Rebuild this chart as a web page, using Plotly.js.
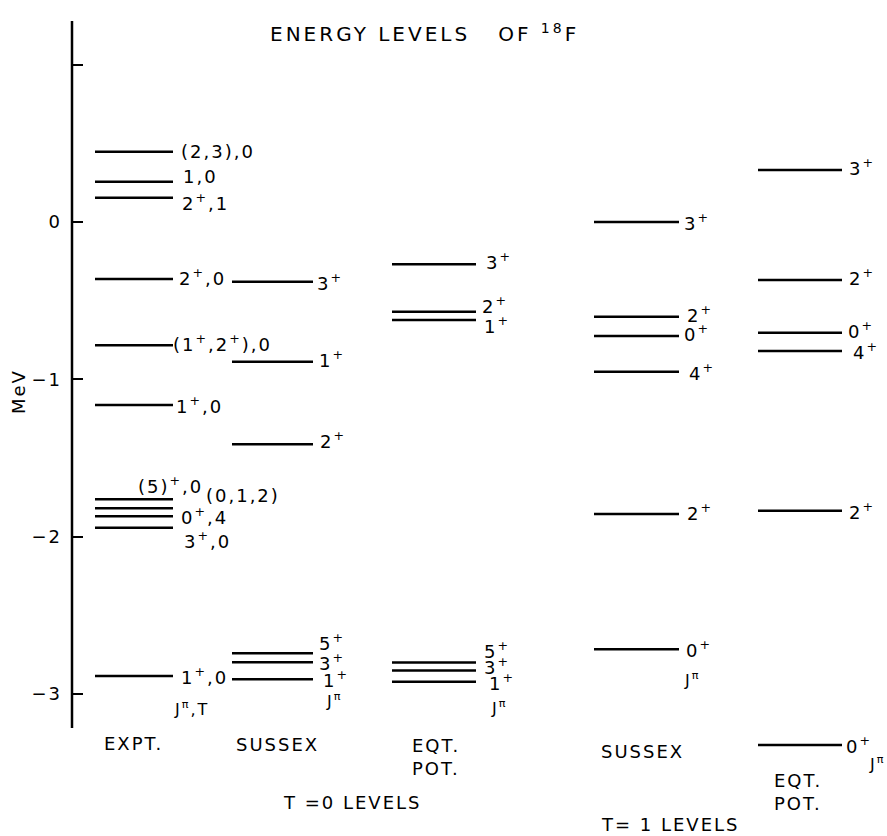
<!DOCTYPE html>
<html><head><meta charset="utf-8">
<script src="https://cdn.plot.ly/plotly-3.0.1.min.js"></script>
<style>
html,body{margin:0;padding:0;background:#fff;}
#chart{width:887px;height:836px;}
text{letter-spacing:2px;}
text.gtitle{letter-spacing:3px;}
</style></head><body><div id="chart"></div>
<script>
// ---- Data (energies in MeV) ----
const exptE = [0.447, 0.256, 0.154, -0.362, -0.784, -1.163, -1.763, -1.820, -1.871, -1.943, -2.886];
const exptLabels = ['(2,3),0', '1,0', '2<sup>+</sup>,1', '2<sup>+</sup>,0', '(1<sup>+</sup>,2<sup>+</sup>),0', '1<sup>+</sup>,0',
                    '(5)<sup>+</sup>,0', '(0,1,2)', '0<sup>+</sup>,4', '3<sup>+</sup>,0', '1<sup>+</sup>,0'];
const sussexT0E = [-0.380, -0.888, -1.413, -2.742, -2.799, -2.907];
const sussexT0Labels = ['3<sup>+</sup>', '1<sup>+</sup>', '2<sup>+</sup>', '5<sup>+</sup>', '3<sup>+</sup>', '1<sup>+</sup>'];
const eqtT0E = [-0.269, -0.570, -0.623, -2.800, -2.852, -2.922];
const eqtT0Labels = ['3<sup>+</sup>', '2<sup>+</sup>', '1<sup>+</sup>', '5<sup>+</sup>', '3<sup>+</sup>', '1<sup>+</sup>'];
const sussexT1E = [0.000, -0.602, -0.725, -0.952, -1.856, -2.716];
const sussexT1Labels = ['3<sup>+</sup>', '2<sup>+</sup>', '0<sup>+</sup>', '4<sup>+</sup>', '2<sup>+</sup>', '0<sup>+</sup>'];
const eqtT1E = [0.331, -0.369, -0.704, -0.820, -1.835, -3.325];
const eqtT1Labels = ['3<sup>+</sup>', '2<sup>+</sup>', '0<sup>+</sup>', '4<sup>+</sup>', '2<sup>+</sup>', '0<sup>+</sup>'];
const yTickVals = [1, 0, -1, -2, -3];
const yTickText = ['', '0', '\u22121', '\u22122', '\u22123'];

// ---- Layout config (pixel positions; x axis is in pixels) ----
const FONT = 'DejaVu Sans, Liberation Sans, sans-serif';
const columns = [
  {E: exptE, labels: exptLabels, x0: 95, x1: 173,
   lx: [180, 182, 181, 178, 172, 175, 137, 205, 180, 183, 180],
   dy: [0, 5, -4, 2, 2, 0, 14, 13, 0, -12, 0]},
  {E: sussexT0E, labels: sussexT0Labels, x0: 232, x1: 313,
   lx: [316, 318, 319, 318, 318, 322], dy: [0, 3, 4, 11, 0, 0]},
  {E: eqtT0E, labels: eqtT0Labels, x0: 392, x1: 476,
   lx: [485, 481, 483, 483, 483, 488], dy: [3, 7, -5, 12, 5, 0]},
  {E: sussexT1E, labels: sussexT1Labels, x0: 594, x1: 679,
   lx: [683, 686, 683, 688, 686, 685], dy: [0, 3, 3, 0, 2, 0]},
  {E: eqtT1E, labels: eqtT1Labels, x0: 758, x1: 842,
   lx: [848, 848, 847, 852, 848, 845], dy: [3, 3, 3, 0, 0, 0]}
];

const W = 887, H = 836, mT = 21, mB = 36, mL = 72;
const plotH = H - mT - mB;
const yTop = 1.2778, yBot = -3.6745;
const py2paper = py => (H - mB - py) / plotH;
const px2paper = px => (px - mL) / (W - mL);

const traces = [];
const annotations = [];
columns.forEach(c => {
  const xs = [], ys = [];
  c.E.forEach((e, i) => {
    xs.push(c.x0, c.x1, null);
    ys.push(e, e, null);
    annotations.push({
      x: c.lx[i] - 1, y: e, xref: 'x', yref: 'y', yshift: c.dy[i],
      text: c.labels[i], showarrow: false, xanchor: 'left', yanchor: 'middle', align: 'left',
      font: {family: FONT, size: 18, color: '#000'}
    });
  });
  traces.push({x: xs, y: ys, mode: 'lines', line: {color: '#000', width: 2.5},
               hoverinfo: 'skip', showlegend: false});
});

function txt(text, px, py, opts) {
  annotations.push(Object.assign({
    x: px - 1, y: py2paper(py), xref: 'x', yref: 'paper', text: text, showarrow: false,
    xanchor: 'left', yanchor: 'middle', align: 'left',
    font: {family: FONT, size: 18, color: '#000'}
  }, opts || {}));
}
txt('EXPT.', 103, 743);
txt('SUSSEX', 235, 744);
txt('EQT.<br>POT.', 411, 757);
txt('T =0 LEVELS', 282, 803);
txt('SUSSEX', 600, 751);
txt('EQT.<br>POT.', 773, 792);
txt('T= 1 LEVELS', 600, 824);
const jf = {family: FONT, size: 16, color: '#000'};
txt('J<sup>\u03c0</sup>,T', 173, 708, {font: jf});
txt('J<sup>\u03c0</sup>', 325, 700, {font: jf});
txt('J<sup>\u03c0</sup>', 490, 707, {font: jf});
txt('J<sup>\u03c0</sup>', 683, 679, {font: jf});
txt('J<sup>\u03c0</sup>', 868, 763, {font: jf});
annotations.push({x: px2paper(19), y: py2paper(392), xref: 'paper', yref: 'paper',
  text: 'MeV', textangle: -90, showarrow: false, xanchor: 'center', yanchor: 'middle',
  font: {family: FONT, size: 18, color: '#000'}});

const layout = {
  width: W, height: H,
  margin: {l: mL, r: 0, t: mT, b: mB, pad: 0},
  paper_bgcolor: '#fff', plot_bgcolor: '#fff',
  title: {text: 'ENERGY\u00a0LEVELS\u00a0\u00a0\u00a0OF\u00a0<sup>18</sup>F',
          x: px2paper(270), xref: 'paper', xanchor: 'left',
          y: 1 - 34 / H, yref: 'container', yanchor: 'middle',
          font: {family: FONT, size: 20, color: '#000'}},
  xaxis: {range: [mL, W], visible: false, fixedrange: true},
  yaxis: {range: [yBot, yTop], showgrid: false, zeroline: false, showline: false,
          ticks: 'inside', ticklen: 11, tickwidth: 2, tickcolor: '#000',
          tickvals: yTickVals, ticktext: yTickText, ticklabelstandoff: 9,
          tickfont: {family: FONT, size: 18, color: '#000'}, fixedrange: true},
  shapes: [{type: 'line', xref: 'paper', yref: 'y', x0: 0, x1: 0, y0: -3.217, y1: yTop,
            line: {color: '#000', width: 2.5}}],
  annotations: annotations,
  showlegend: false
};
Plotly.newPlot('chart', traces, layout, {staticPlot: true, displayModeBar: false});
</script></body></html>
